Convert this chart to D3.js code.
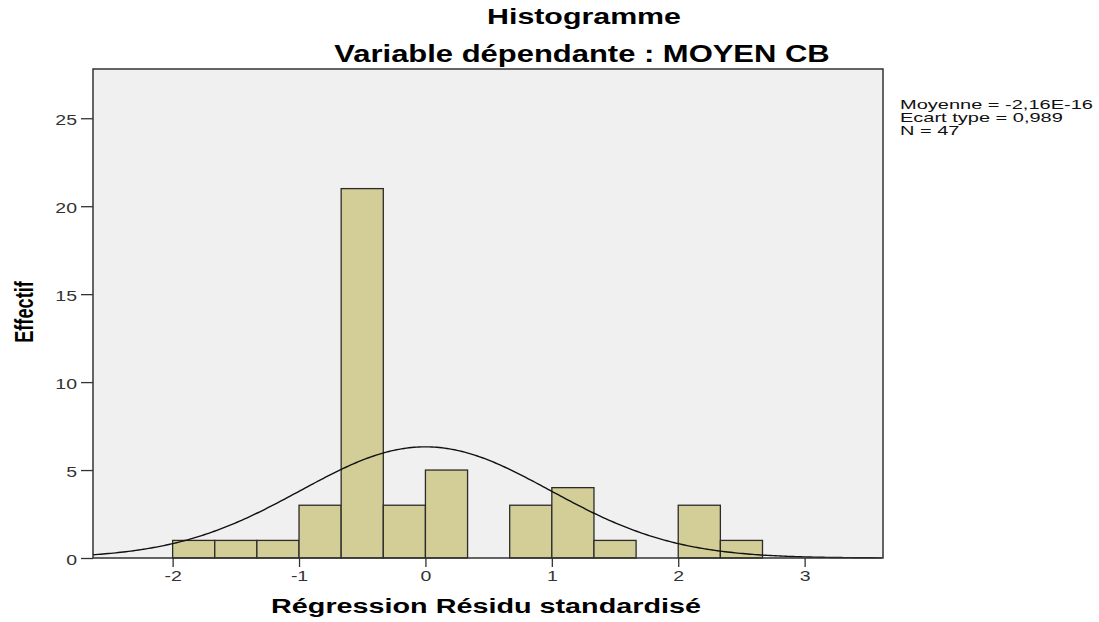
<!DOCTYPE html>
<html>
<head>
<meta charset="utf-8">
<script src="https://cdn.jsdelivr.net/npm/d3@7"></script>
<style>
  body { margin: 0; background: #fff; }
  text { font-family: "Liberation Sans", Arial, sans-serif; }
</style>
</head>
<body>
<svg id="chart" width="1099" height="622"></svg>
<script>
// bins of the standardized residual (width 1/3), counts
let binStarts = [-2, -5/3, -4/3, -1, -2/3, -1/3, 0, 1/3, 2/3, 1, 4/3, 5/3, 2, 7/3];
let counts    = [1, 1, 1, 3, 21, 3, 5, 0, 3, 4, 1, 0, 3, 1];
let binWidth = 1/3;
let xTicks = [-2, -1, 0, 1, 2, 3];
let yTicks = [0, 5, 10, 15, 20, 25];
let statLines = ["Moyenne = -2,16E-16", "Ecart type = 0,989", "N = 47"];
let mean = -2.16e-16, sd = 0.989, n = 47;

let svg = d3.select("#chart");
let plotLeft = 93, plotRight = 883, plotTop = 69, plotBottom = 558;

let x = d3.scaleLinear().domain([-2.63, 3.62]).range([plotLeft, plotRight]);
let y = d3.scaleLinear().domain([0, 27.8]).range([plotBottom, plotTop]);

// plot background
svg.append("rect")
    .attr("x", plotLeft).attr("y", plotTop)
    .attr("width", plotRight - plotLeft).attr("height", plotBottom - plotTop)
    .attr("fill", "#f0f0f0");

// bars
svg.selectAll(".bar")
    .data(binStarts.map((s, i) => ({s: s, c: counts[i]})).filter(d => d.c > 0))
    .enter().append("rect")
    .attr("class", "bar")
    .attr("x", d => x(d.s))
    .attr("width", d => x(d.s + binWidth) - x(d.s))
    .attr("y", d => y(d.c))
    .attr("height", d => y(0) - y(d.c))
    .attr("fill", "#d3ce97")
    .attr("stroke", "#2b2b2b")
    .attr("stroke-width", 1.3);

// normal curve from the stats
let pts = d3.range(-2.63, 3.621, 0.02).map(v => {
    let pdf = Math.exp(-0.5 * Math.pow((v - mean) / sd, 2)) / (sd * Math.sqrt(2 * Math.PI));
    return [v, n * binWidth * pdf];
});
svg.append("path")
    .datum(pts)
    .attr("fill", "none")
    .attr("stroke", "#111")
    .attr("stroke-width", 1.4)
    .attr("d", d3.line().x(d => x(d[0])).y(d => y(d[1])));

// frame
svg.append("rect")
    .attr("x", plotLeft).attr("y", plotTop)
    .attr("width", plotRight - plotLeft).attr("height", plotBottom - plotTop)
    .attr("fill", "none")
    .attr("stroke", "#333")
    .attr("stroke-width", 1.5);

// axes (labels are stretched sideways like the original)
let sx = 1.3;
let xAxis = svg.append("g")
    .attr("transform", `translate(0,${plotBottom})`)
    .call(d3.axisBottom(x).tickValues(xTicks).tickSize(9).tickPadding(4).tickFormat(d => String(d)));
let yAxis = svg.append("g")
    .attr("transform", `translate(${plotLeft},0)`)
    .call(d3.axisLeft(y).tickValues(yTicks).tickSize(12).tickPadding(3));
[xAxis, yAxis].forEach(a => {
    a.select(".domain").remove();
    a.selectAll("line").attr("stroke", "#333").attr("stroke-width", 1.3);
    a.selectAll("text").attr("fill", "#333")
        .attr("transform", `scale(${sx},1)`)
        .style("font-family", "'Liberation Sans', Arial, sans-serif").style("font-size", "15px");
});
yAxis.selectAll("text").attr("x", -16 / sx).attr("dy", "0.4em");
xAxis.selectAll("text").attr("y", 12).attr("dy", "0.71em");

// titles
svg.append("text").attr("transform", "translate(584,24) scale(1.38,1)").attr("text-anchor", "middle")
    .style("font-size", "22px").style("font-weight", "bold").text("Histogramme");
svg.append("text").attr("transform", "translate(582,62) scale(1.29,1)").attr("text-anchor", "middle")
    .style("font-size", "24px").style("font-weight", "bold").text("Variable dépendante : MOYEN CB");

svg.append("text").attr("transform", "translate(486,613) scale(1.37,1)").attr("text-anchor", "middle")
    .style("font-size", "21px").style("font-weight", "bold")
    .text("Régression Résidu standardisé");

svg.append("text")
    .attr("transform", "translate(33,312) rotate(-90) scale(0.7,1)")
    .attr("text-anchor", "middle")
    .style("font-size", "26px").style("font-weight", "bold")
    .text("Effectif");

// stats box
svg.append("g").selectAll("text")
    .data(statLines)
    .enter().append("text")
    .attr("transform", (d, i) => `translate(900,${109 + i * 13}) scale(1.54,1)`)
    .style("font-size", "13px")
    .attr("fill", "#111")
    .text(d => d);
</script>
</body>
</html>
